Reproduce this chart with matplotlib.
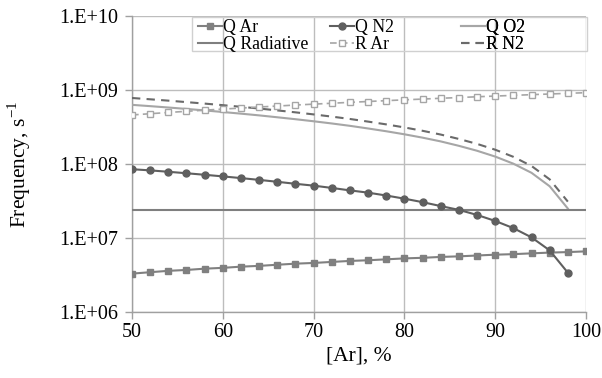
import matplotlib
matplotlib.use("Agg")
import matplotlib.pyplot as plt
import matplotlib.ticker as mticker
from matplotlib.patches import Rectangle

plt.rcParams["font.family"] = ["Liberation Serif", "DejaVu Serif"]

# Argon fraction, %
AR_FULL = [50, 52, 54, 56, 58, 60, 62, 64, 66, 68, 70, 72, 74, 76, 78, 80,
           82, 84, 86, 88, 90, 92, 94, 96, 98, 100]
AR_TO98 = AR_FULL[:-1]

# frequencies, s^-1
Q_AR = [3.3e6, 3.45e6, 3.6e6, 3.7e6, 3.85e6, 3.95e6, 4.1e6, 4.2e6, 4.35e6,
        4.5e6, 4.6e6, 4.75e6, 4.9e6, 5.0e6, 5.15e6, 5.3e6, 5.4e6, 5.55e6,
        5.65e6, 5.8e6, 5.95e6, 6.05e6, 6.2e6, 6.35e6, 6.45e6, 6.6e6]
Q_N2 = [85e6, 82e6, 78.5e6, 75e6, 71.5e6, 68e6, 64.5e6, 61e6, 57.5e6, 54e6,
        51e6, 47.5e6, 44e6, 41e6, 37.5e6, 34e6, 30.5e6, 27e6, 24e6, 20.5e6,
        17e6, 13.6e6, 10.2e6, 6.8e6, 3.4e6]
Q_O2 = [630e6, 605e6, 580e6, 555e6, 530e6, 504e6, 479e6, 454e6, 428e6,
        403e6, 378e6, 353e6, 328e6, 302e6, 277e6, 252e6, 227e6, 202e6,
        176e6, 151e6, 126e6, 101e6, 76e6, 50e6, 25e6]
Q_RAD = [2.4e7] * len(AR_FULL)
R_AR = [460e6, 478e6, 497e6, 515e6, 534e6, 552e6, 570e6, 589e6, 607e6,
        626e6, 644e6, 662e6, 681e6, 699e6, 718e6, 736e6, 754e6, 773e6,
        791e6, 810e6, 828e6, 846e6, 865e6, 883e6, 902e6, 920e6]
R_N2 = [780e6, 749e6, 718e6, 686e6, 655e6, 624e6, 593e6, 562e6, 530e6,
        499e6, 468e6, 437e6, 406e6, 374e6, 343e6, 312e6, 281e6, 250e6,
        218e6, 187e6, 156e6, 125e6, 94e6, 62e6, 31e6]

X_TICKS = [50, 60, 70, 80, 90, 100]
Y_TICKS = [1e6, 1e7, 1e8, 1e9, 1e10]
Y_TICKLABELS = ["1.E+06", "1.E+07", "1.E+08", "1.E+09", "1.E+10"]

fig = plt.figure(figsize=(6.02, 3.78), dpi=100, facecolor="white")
ax = fig.add_axes([132 / 602, (378 - 312) / 378, 454 / 602, 296 / 378])

h_qar, = ax.plot(AR_FULL, Q_AR, color="#808080", lw=1.5, marker="s", ms=5,
                 label="Q Ar", zorder=4)
h_qn2, = ax.plot(AR_TO98, Q_N2, color="#5f5f5f", lw=1.5, marker="o", ms=5,
                 label="Q N2", zorder=4)
h_qo2, = ax.plot(AR_TO98, Q_O2, color="#a6a6a6", lw=1.5, label="Q O2", zorder=3)
h_qrad, = ax.plot(AR_FULL, Q_RAD, color="#7f7f7f", lw=1.5, label="Q Radiative", zorder=3)
h_rar, = ax.plot(AR_FULL, R_AR, color="#a6a6a6", lw=1.2, ls=(0, (4, 2.5)),
                 marker="s", ms=4.5, mfc="white", mec="#a6a6a6", label="R Ar", zorder=4)
h_rn2, = ax.plot(AR_TO98, R_N2, color="#6a6a6a", lw=1.5, ls=(0, (4, 3)),
                 label="R N2", zorder=3)

ax.set_yscale("log")
ax.set_xlim(50, 100)
ax.set_ylim(1e6, 1e10)
ax.set_xticks(X_TICKS)
ax.set_yticks(Y_TICKS)
ax.set_yticklabels(Y_TICKLABELS)
ax.yaxis.set_minor_locator(mticker.NullLocator())

ax.grid(True, color="#bdbdbd", lw=1.0, zorder=1)
ax.set_axisbelow(True)
for side in ["top", "right"]:
    ax.spines[side].set_visible(False)
for side in ["left", "bottom"]:
    ax.spines[side].set_color("#a0a0a0")
    ax.spines[side].set_linewidth(1.0)
ax.tick_params(axis="both", colors="#a0a0a0", labelcolor="black",
               labelsize=14.5, length=5, width=1.0, direction="out")
ax.tick_params(axis="y", pad=5)
ax.tick_params(axis="x", pad=3)

ax.set_xlabel("[Ar], %", fontsize=15.5, labelpad=3)
ax.set_ylabel("Frequency, s$^{\\mathregular{-1}}$", fontsize=15.5, labelpad=19)

# legend: one frame, three columns placed like the original
ax.add_patch(Rectangle((0.132, 0.882), 0.870, 0.113, transform=ax.transAxes,
                       facecolor="none", edgecolor="#d0d0d0", lw=1.0,
                       clip_on=False, zorder=2))
columns = [([h_qar, h_qrad], 0.145), ([h_qn2, h_rar], 0.436), ([h_qo2, h_rn2], 0.724)]
for hs, x0 in columns:
    leg = ax.legend(handles=hs, loc="upper left", bbox_to_anchor=(x0, 0.99),
                    fontsize=12.8, frameon=False, handlelength=1.35,
                    handletextpad=0.05, borderpad=0, labelspacing=0.0,
                    borderaxespad=0)
    ax.add_artist(leg)

fig.savefig("out.png", dpi=100, facecolor="white")
